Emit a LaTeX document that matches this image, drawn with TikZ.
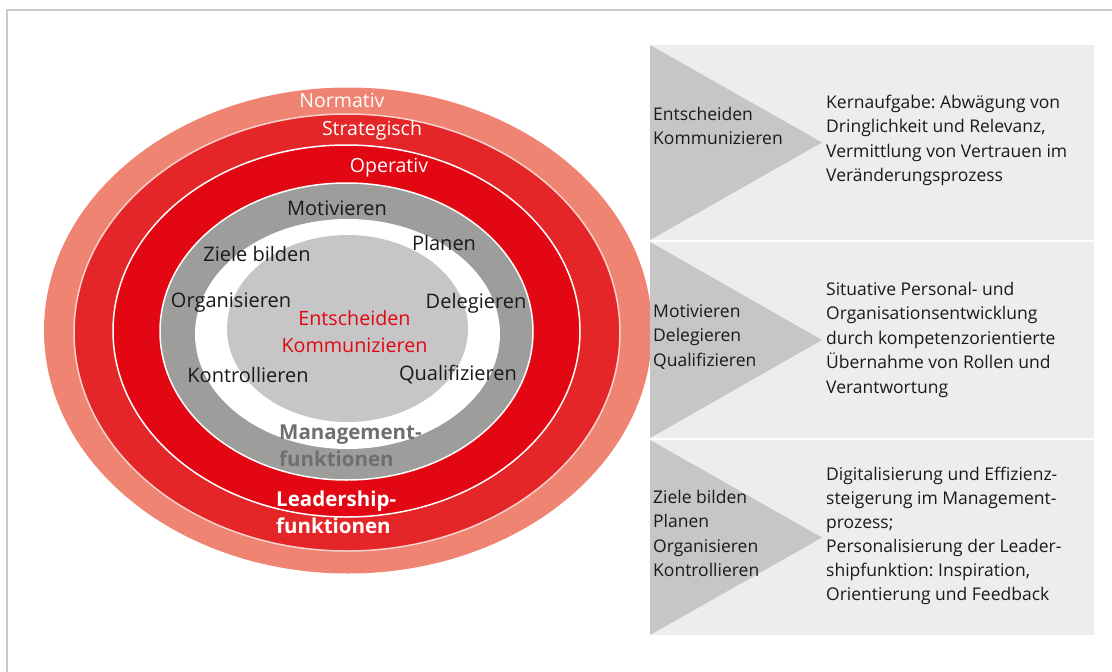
\documentclass[tikz,border=0pt]{standalone}
\usepackage{fontspec}
\setmainfont{Open Sans}
\frenchspacing
\definecolor{normcol}{HTML}{F08473}
\definecolor{stratcol}{HTML}{E52629}
\definecolor{opcol}{HTML}{E30613}
\definecolor{ringgray}{HTML}{9D9D9C}
\definecolor{coregray}{HTML}{C6C6C6}
\definecolor{panelgray}{HTML}{EDEDED}
\definecolor{mgmtgray}{HTML}{6F6F6F}
\definecolor{framegray}{HTML}{C8C8C8}
\definecolor{softline}{HTML}{F9D3CE}
\definecolor{textblack}{HTML}{1A1A1A}
\begin{document}
\begin{tikzpicture}[x=1pt,y=-1pt,
  lbl/.style={inner sep=0pt, text=textblack, font=\fontsize{20}{24}\selectfont},
  levellbl/.style={inner sep=0pt, text=white, font=\fontsize{19.5}{24}\selectfont},
  corelbl/.style={inner sep=0pt, text=opcol, align=center, font=\fontsize{19.7}{27}\selectfont},
  boldlbl/.style={inner sep=0pt, align=left, font=\bfseries\fontsize{20.5}{27}\selectfont},
  paneltext/.style={inner sep=0pt, align=left, text=textblack, font=\fontsize{17.5}{24.5}\selectfont},
  panel/.style={fill=panelgray},
  wedge/.style={fill=coregray}]
\useasboundingbox (0,0) rectangle (1112,672);

% outer frame (open to the right and bottom)
\draw[framegray, line width=2pt] (7,672) -- (7,10) -- (1112,10);

% nested levels
\fill[normcol] (348,330.5) ellipse [x radius=304pt, y radius=243pt];
\filldraw[fill=stratcol, draw=softline, line width=1.5pt] (347,332.5) ellipse [x radius=273pt, y radius=218.5pt];
\filldraw[fill=opcol, draw=white, line width=1.5pt] (346.5,331) ellipse [x radius=233.5pt, y radius=186pt];
\filldraw[fill=ringgray, draw=white, line width=1.5pt] (346.5,331.5) ellipse [x radius=186.5pt, y radius=148.5pt];
\fill[white] (347.5,334) ellipse [x radius=152.5pt, y radius=115pt];
\fill[coregray] (347.5,328.5) ellipse [x radius=120.5pt, y radius=93.5pt];

% level names
\node[levellbl] (normativ) at (342,100) {Normativ};
\node[levellbl] (strategisch) at (372,130) {Strategisch};
\node[levellbl] (operativ) at (389,168) {Operativ};

% management and leadership functions
\node[lbl] (motivieren) at (337,208) {Motivieren};
\node[lbl] (ziele) at (257,254) {Ziele bilden};
\node[lbl] (planen) at (444,243) {Planen};
\node[lbl] (organisieren) at (231,303) {Organisieren};
\node[lbl] (delegieren) at (476,303) {Delegieren};
\node[lbl] (kontrollieren) at (248,375) {Kontrollieren};
\node[lbl] (qualifizieren) at (458,375) {Qualifizieren};
\node[corelbl] (core) at (354.5,331.5) {Entscheiden\\Kommunizieren};

% multi-line nodes: the base anchor sits on the last line
\node[boldlbl, text=mgmtgray, anchor=base west] (mgmt) at (279,466) {Management-\\funktionen};
\node[boldlbl, text=white, anchor=base west] (lead) at (276,533) {Leadership-\\funktionen};

% right-hand panels
\fill[panel] (650,45) rectangle (1094,240);
\fill[wedge] (650,45) -- (822,142.5) -- (650,240) -- cycle;
\fill[panel] (650,242) rectangle (1094,438);
\fill[wedge] (650,242) -- (822,340) -- (650,438) -- cycle;
\fill[panel] (650,440) rectangle (1094,635);
\fill[wedge] (650,440) -- (822,537.5) -- (650,635) -- cycle;

\node[paneltext, anchor=base west] (fa) at (653,144.5) {Entscheiden\\Kommunizieren};
\node[paneltext, anchor=base west] (da) at (826,181.5) {Kernaufgabe: Abwägung von\\Dringlichkeit und Relevanz,\\Vermittlung von Vertrauen im\\Veränderungsprozess};

\node[paneltext, anchor=base west] (fb) at (653,366) {Motivieren\\Delegieren\\Qualifizieren};
\node[paneltext, anchor=base west] (db) at (826,393) {Situative Personal- und\\Organisationsentwicklung\\durch kompetenzorientierte\\Übernahme von Rollen und\\Verantwortung};

\node[paneltext, anchor=base west] (fc) at (653,576.5) {Ziele bilden\\Planen\\Organisieren\\Kontrollieren};
\node[paneltext, anchor=base west, font=\fontsize{17.5}{24}\selectfont] (dc) at (826,600) {Digitalisierung und Effizienz-\\steigerung im Management-\\prozess;\\Personalisierung der Leader-\\shipfunktion: Inspiration,\\Orientierung und Feedback};
\end{tikzpicture}
\end{document}
